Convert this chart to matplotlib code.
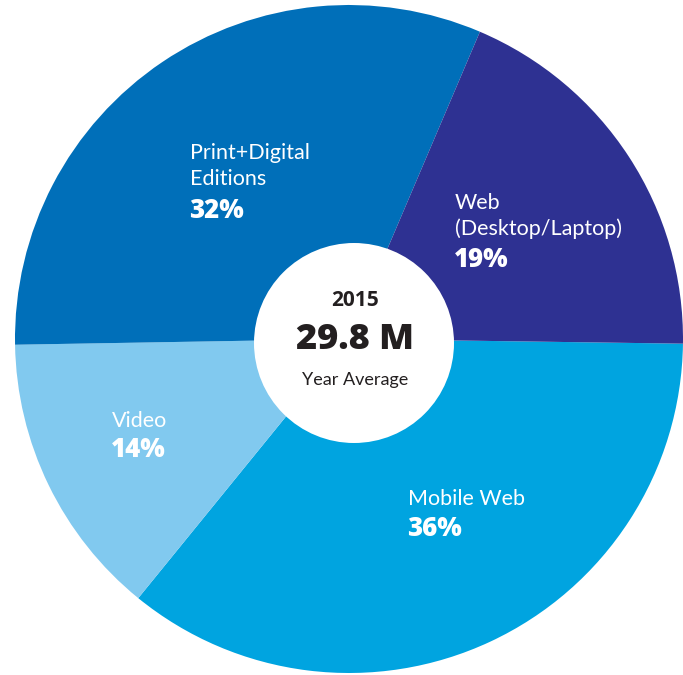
import matplotlib.pyplot as plt
from matplotlib.patches import Circle

# Audience split, 2015
categories = ["Mobile Web", "Video", "Print+Digital\nEditions", "Web\n(Desktop/Laptop)"]
shares = [36, 14, 32, 19]
colors = ["#00A4E0", "#81C9EF", "#006FB9", "#2E3192"]

year = "2015"
total = "29.8 M"
total_note = "Year Average"

# label anchors in pixel coords (x, y of first line, y of percentage)
label_pos = [(408, 499, 529), (112, 421, 450), (190, 153, 211), (455, 203, 260)]

W, H = 683, 675
plt.rcParams['font.family'] = ['Lato', 'DejaVu Sans']
bold_font = ['Open Sans', 'DejaVu Sans']

fig = plt.figure(figsize=(W / 100, H / 100), dpi=100)
ax = fig.add_axes([0, 0, 1, 1])

cx, cy, r = 349, H - 339, 334
ax.pie(shares, colors=colors, startangle=-0.8, counterclock=False,
       center=(cx, cy), radius=r, frame=True,
       wedgeprops=dict(linewidth=0))
ax.set_xlim(0, W)
ax.set_ylim(0, H)
ax.set_aspect('equal')
ax.axis('off')

# white hole in the middle
ax.add_patch(Circle((354, H - 343), 100, facecolor='white', edgecolor='none', zorder=5))

for (name, pct), (x, y1, y2) in zip(zip(categories, shares), label_pos):
    lines = name.split("\n")
    for i, line in enumerate(lines):
        ax.text(x, H - (y1 + 26 * i), line, color='white', fontsize=15.5,
                ha='left', va='center', zorder=6)
    ax.text(x - 1, H - y2, f"{pct}%", color='white', fontsize=18.5, fontweight='heavy',
            family=bold_font, ha='left', va='center', zorder=6)

ax.text(355, H - 301, year, color='#231F20', fontsize=15, fontweight='bold',
        family=bold_font, ha='center', va='center', zorder=6)
ax.text(355, H - 340, total, color='#231F20', fontsize=26, fontweight='heavy',
        family=bold_font, ha='center', va='center', zorder=6)
ax.text(355, H - 380, total_note, color='#231F20', fontsize=13,
        ha='center', va='center', zorder=6)

fig.savefig('out.png', dpi=100, facecolor='white')
